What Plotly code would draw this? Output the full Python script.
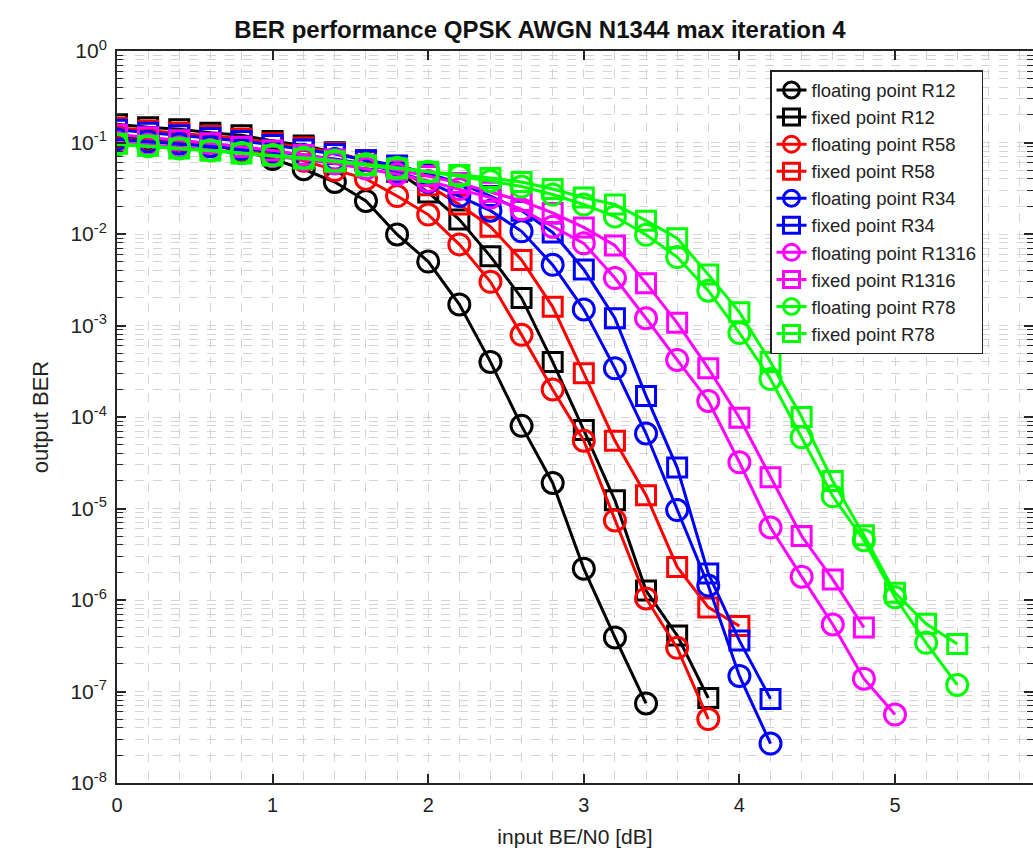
import plotly.graph_objects as go

# ---------------- data ----------------
SNR = [0.0, 0.2, 0.4, 0.6, 0.8, 1.0, 1.2, 1.4, 1.6, 1.8, 2.0, 2.2, 2.4, 2.6,
       2.8, 3.0, 3.2, 3.4, 3.6, 3.8, 4.0, 4.2, 4.4, 4.6, 4.8, 5.0, 5.2, 5.4]

float_R12 = [0.115, 0.108, 0.100, 0.092, 0.082, 0.066, 0.051, 0.037, 0.023, 0.0099,
             0.0050, 0.0017, 4.0e-4, 8.0e-5, 1.9e-5, 2.2e-6, 3.9e-7, 7.4e-8]
fixed_R12 = [0.158, 0.147, 0.140, 0.128, 0.120, 0.104, 0.093, 0.078, 0.063, 0.048,
             0.0285, 0.0144, 0.0057, 0.0020, 4.0e-4, 7.2e-5, 1.23e-5, 1.27e-6, 4.1e-7, 8.5e-8]
float_R58 = [0.110, 0.104, 0.098, 0.092, 0.085, 0.076, 0.063, 0.050, 0.040, 0.026,
             0.0163, 0.0077, 0.0030, 7.9e-4, 2.0e-4, 5.5e-5, 7.4e-6, 1.04e-6, 3.0e-7, 5.0e-8]
fixed_R58 = [0.145, 0.135, 0.128, 0.118, 0.110, 0.098, 0.088, 0.077, 0.064, 0.050,
             0.034, 0.021, 0.012, 0.0052, 0.0016, 3.0e-4, 5.5e-5, 1.4e-5, 2.3e-6, 8.3e-7, 5.2e-7]
float_R34 = [0.108, 0.102, 0.097, 0.091, 0.086, 0.080, 0.073, 0.066, 0.058, 0.048,
             0.037, 0.026, 0.0180, 0.0107, 0.0046, 0.0015, 3.4e-4, 6.6e-5, 9.6e-6, 1.44e-6,
             1.48e-7, 2.7e-8]
fixed_R34 = [0.138, 0.128, 0.120, 0.112, 0.104, 0.094, 0.084, 0.075, 0.064, 0.056,
             0.046, 0.036, 0.026, 0.018, 0.0104, 0.0041, 0.0012, 1.7e-4, 2.8e-5, 1.95e-6,
             3.6e-7, 8.3e-8]
float_R1316 = [0.100, 0.095, 0.089, 0.083, 0.077, 0.071, 0.065, 0.059, 0.052, 0.045,
               0.038, 0.031, 0.025, 0.0186, 0.0120, 0.0079, 0.0033, 0.0012, 4.2e-4, 1.5e-4,
               3.2e-5, 6.2e-6, 1.8e-6, 5.4e-7, 1.38e-7, 5.6e-8]
fixed_R1316 = [0.122, 0.114, 0.106, 0.098, 0.090, 0.082, 0.073, 0.065, 0.057, 0.050,
               0.043, 0.036, 0.029, 0.023, 0.017, 0.0118, 0.0075, 0.0029, 0.00107, 3.4e-4,
               9.8e-5, 2.2e-5, 5.0e-6, 1.68e-6, 5.0e-7]
float_R78 = [0.095, 0.091, 0.086, 0.082, 0.077, 0.073, 0.068, 0.063, 0.058, 0.053,
             0.048, 0.043, 0.038, 0.033, 0.027, 0.021, 0.0155, 0.0098, 0.0056, 0.0024,
             8.3e-4, 2.6e-4, 6.0e-5, 1.36e-5, 4.5e-6, 1.07e-6, 3.4e-7, 1.18e-7]
fixed_R78 = [0.097, 0.092, 0.086, 0.081, 0.076, 0.072, 0.067, 0.062, 0.056, 0.052,
             0.048, 0.044, 0.041, 0.037, 0.031, 0.025, 0.021, 0.014, 0.009, 0.0036,
             0.0014, 4.0e-4, 1.0e-4, 2.0e-5, 5.1e-6, 1.2e-6, 5.5e-7, 3.3e-7]

series = [
    ("floating point R12", float_R12, "#000000", "circle-open"),
    ("fixed point R12", fixed_R12, "#000000", "square-open"),
    ("floating point R58", float_R58, "#ff0000", "circle-open"),
    ("fixed point R58", fixed_R58, "#ff0000", "square-open"),
    ("floating point R34", float_R34, "#0000ff", "circle-open"),
    ("fixed point R34", fixed_R34, "#0000ff", "square-open"),
    ("floating point R1316", float_R1316, "#ff00ff", "circle-open"),
    ("fixed point R1316", fixed_R1316, "#ff00ff", "square-open"),
    ("floating point R78", float_R78, "#00ff00", "circle-open"),
    ("fixed point R78", fixed_R78, "#00ff00", "square-open"),
]

y_exponents = [-8, -7, -6, -5, -4, -3, -2, -1, 0]
x_ticks = [0, 1, 2, 3, 4, 5]

# ---------------- figure ----------------
fig = go.Figure()
for name, vals, col, sym in series:
    fig.add_trace(go.Scatter(
        x=SNR[:len(vals)], y=vals, name=name, mode="lines+markers",
        line=dict(color=col, width=3),
        marker=dict(symbol=sym, size=21 if sym.startswith("circle") else 19,
                    color=col, line=dict(color=col, width=3)),
    ))

W, H = 1033, 848
L, R, T, B = 117, 0, 51, 65
xscale = 155.6
xmax = (W - L - R) / xscale
PW, PH = W - L - R, H - T - B

ytickvals = [10.0 ** e for e in y_exponents]
ytext = ["10<sup>%d</sup>" % e for e in y_exponents]
minor_vals = [m * 10.0 ** e for e in y_exponents[:-1] for m in range(2, 10)]

grid_col = "#d4d4d4"
axis_col = "#262626"
txt_col = "#222222"

fig.update_layout(
    width=W, height=H,
    margin=dict(l=L, r=R, t=T, b=B, autoexpand=False),
    paper_bgcolor="white", plot_bgcolor="white",
    font=dict(family="Liberation Sans, Arial, sans-serif", color=txt_col),
    title=dict(text="<b>BER performance QPSK AWGN N1344 max iteration 4</b>",
               x=540 / W, xref="container", xanchor="center",
               y=1 - 30 / H, yref="container", yanchor="middle",
               font=dict(size=24, color="#111111")),
    showlegend=True,
    legend=dict(x=(770 - L) / PW, y=(H - B - 70) / PH,
                xanchor="left", yanchor="top",
                bgcolor="white", bordercolor="#222222", borderwidth=1.5,
                font=dict(size=18.5, color=txt_col),
                tracegroupgap=0, itemsizing="trace"),
    xaxis=dict(
        range=[0, xmax], tickmode="array", tickvals=x_ticks,
        ticktext=[str(v) for v in x_ticks], showticklabels=True,
        ticks="inside", ticklen=9, tickwidth=1.5, tickcolor=axis_col,
        showline=True, linecolor=axis_col, linewidth=2, mirror="ticks",
        showgrid=True, gridcolor=grid_col, griddash="dash", gridwidth=1,
        zeroline=False, ticklabeloverflow="allow", ticklabelstandoff=3,
        minor=dict(dtick=0.2, tick0=0, showgrid=True, gridcolor=grid_col,
                   griddash="dash", gridwidth=1, ticks=""),
        tickfont=dict(size=20, color=txt_col),
        title=dict(text="input BE/N0 [dB]", font=dict(size=21, color=txt_col),
                   standoff=15),
    ),
    yaxis=dict(
        type="log", range=[-8, 0], tickmode="array", tickvals=ytickvals,
        ticktext=ytext,
        ticks="inside", ticklen=9, tickwidth=1.5, tickcolor=axis_col,
        showline=True, linecolor=axis_col, linewidth=2, mirror="ticks",
        showgrid=True, gridcolor=grid_col, griddash="dash", gridwidth=1,
        zeroline=False, ticklabeloverflow="allow", ticklabelstandoff=4,
        minor=dict(tickmode="array", tickvals=minor_vals, ticks="inside",
                   ticklen=6, tickwidth=1.2, tickcolor=axis_col,
                   showgrid=True, gridcolor=grid_col, griddash="dash", gridwidth=1),
        tickfont=dict(size=21, color=txt_col),
        title=dict(text="output BER", font=dict(size=22, color=txt_col),
                   standoff=16),
    ),
)

# place the figure flush with the window corner (no default page margin)
fig.write_html("out.html",
               config={"displayModeBar": False, "responsive": False},
               post_script="document.body.style.margin='0';")
